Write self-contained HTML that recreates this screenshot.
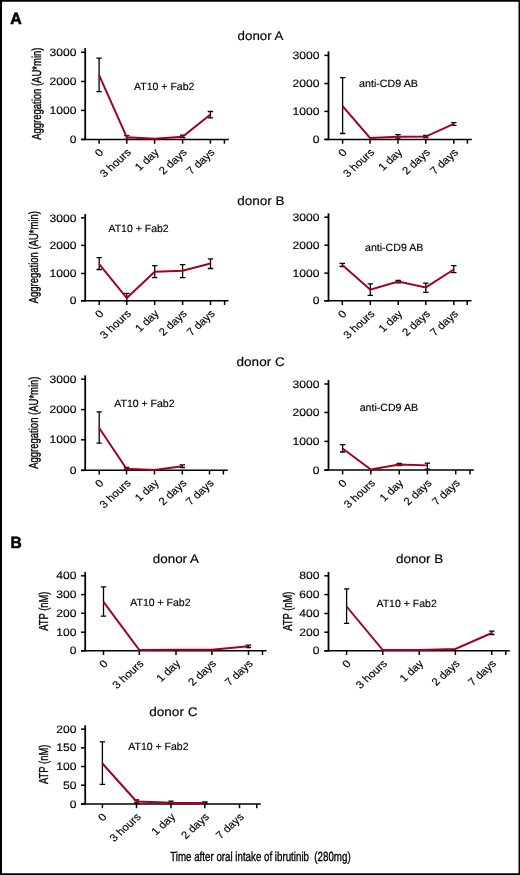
<!DOCTYPE html>
<html><head><meta charset="utf-8"><style>
html,body{margin:0;padding:0;background:#fff;}
body{width:520px;height:875px;overflow:hidden;}
text{stroke:#000;stroke-width:0.15px;}
svg{display:block;font-family:"Liberation Sans",sans-serif;text-rendering:geometricPrecision;will-change:transform;white-space:pre;}
</style></head><body>
<svg width="520" height="875" viewBox="0 0 520 875">
<rect x="0" y="0" width="520" height="875" fill="#fff"/>
<path d="M0,0H520V875H0Z M2,1.8V873.3H518.5V1.8Z" fill="#000" fill-rule="evenodd"/>
<g fill="#000">
<line x1="85.20" y1="48.10" x2="85.20" y2="140.15" stroke="#000" stroke-width="1.8"/>
<line x1="81.00" y1="139.40" x2="228.80" y2="139.40" stroke="#000" stroke-width="1.5"/>
<line x1="81.00" y1="52.30" x2="85.20" y2="52.30" stroke="#000" stroke-width="1.5"/>
<line x1="81.00" y1="81.50" x2="85.20" y2="81.50" stroke="#000" stroke-width="1.5"/>
<line x1="81.00" y1="110.40" x2="85.20" y2="110.40" stroke="#000" stroke-width="1.5"/>
<line x1="81.00" y1="139.40" x2="85.20" y2="139.40" stroke="#000" stroke-width="1.5"/>
<line x1="99.10" y1="139.40" x2="99.10" y2="143.70" stroke="#000" stroke-width="1.5"/>
<line x1="126.80" y1="139.40" x2="126.80" y2="143.70" stroke="#000" stroke-width="1.5"/>
<line x1="154.60" y1="139.40" x2="154.60" y2="143.70" stroke="#000" stroke-width="1.5"/>
<line x1="182.60" y1="139.40" x2="182.60" y2="143.70" stroke="#000" stroke-width="1.5"/>
<line x1="210.40" y1="139.40" x2="210.40" y2="143.70" stroke="#000" stroke-width="1.5"/>
<line x1="224.40" y1="139.40" x2="224.40" y2="143.70" stroke="#000" stroke-width="1.5"/>
<text transform="translate(49.47,55.90) scale(1.12,1)" font-size="10.8">3000</text>
<text transform="translate(49.47,85.10) scale(1.12,1)" font-size="10.8">2000</text>
<text transform="translate(49.47,114.00) scale(1.12,1)" font-size="10.8">1000</text>
<text transform="translate(69.65,143.00) scale(1.12,1)" font-size="10.8">0</text>
<text transform="translate(104.10,153.10) scale(1.1,1) rotate(-45)" font-size="10.5" text-anchor="end">0</text>
<text transform="translate(131.80,153.10) scale(1.1,1) rotate(-45)" font-size="10.5" text-anchor="end">3 hours</text>
<text transform="translate(159.60,153.10) scale(1.1,1) rotate(-45)" font-size="10.5" text-anchor="end">1 day</text>
<text transform="translate(187.60,153.10) scale(1.1,1) rotate(-45)" font-size="10.5" text-anchor="end">2 days</text>
<text transform="translate(215.40,153.10) scale(1.1,1) rotate(-45)" font-size="10.5" text-anchor="end">7 days</text>
<path d="M96.40,58.20H101.80M99.10,58.20V91.60M96.40,91.60H101.80" stroke="#000" stroke-width="1.3" fill="none"/>
<path d="M124.10,135.70H129.50M126.80,135.70V139.40M124.10,139.40H129.50" stroke="#000" stroke-width="1.3" fill="none"/>
<path d="M179.90,135.10H185.30M182.60,135.10V137.60M179.90,137.60H185.30" stroke="#000" stroke-width="1.3" fill="none"/>
<path d="M207.70,111.50H213.10M210.40,111.50V117.80M207.70,117.80H213.10" stroke="#000" stroke-width="1.3" fill="none"/>
<polyline points="99.10,75.20 126.80,137.20 154.60,138.70 182.60,136.80 210.40,114.40" fill="none" stroke="#a3001e" stroke-width="1.95" stroke-linejoin="miter"/>
<line x1="328.50" y1="51.40" x2="328.50" y2="140.15" stroke="#000" stroke-width="1.8"/>
<line x1="324.30" y1="139.40" x2="471.80" y2="139.40" stroke="#000" stroke-width="1.5"/>
<line x1="324.30" y1="55.40" x2="328.50" y2="55.40" stroke="#000" stroke-width="1.5"/>
<line x1="324.30" y1="83.50" x2="328.50" y2="83.50" stroke="#000" stroke-width="1.5"/>
<line x1="324.30" y1="111.40" x2="328.50" y2="111.40" stroke="#000" stroke-width="1.5"/>
<line x1="324.30" y1="139.40" x2="328.50" y2="139.40" stroke="#000" stroke-width="1.5"/>
<line x1="342.60" y1="139.40" x2="342.60" y2="143.70" stroke="#000" stroke-width="1.5"/>
<line x1="370.00" y1="139.40" x2="370.00" y2="143.70" stroke="#000" stroke-width="1.5"/>
<line x1="398.00" y1="139.40" x2="398.00" y2="143.70" stroke="#000" stroke-width="1.5"/>
<line x1="425.80" y1="139.40" x2="425.80" y2="143.70" stroke="#000" stroke-width="1.5"/>
<line x1="453.80" y1="139.40" x2="453.80" y2="143.70" stroke="#000" stroke-width="1.5"/>
<line x1="467.40" y1="139.40" x2="467.40" y2="143.70" stroke="#000" stroke-width="1.5"/>
<text transform="translate(292.57,59.00) scale(1.12,1)" font-size="10.8">3000</text>
<text transform="translate(292.57,87.10) scale(1.12,1)" font-size="10.8">2000</text>
<text transform="translate(292.57,115.00) scale(1.12,1)" font-size="10.8">1000</text>
<text transform="translate(312.75,143.00) scale(1.12,1)" font-size="10.8">0</text>
<text transform="translate(347.60,153.10) scale(1.1,1) rotate(-45)" font-size="10.5" text-anchor="end">0</text>
<text transform="translate(375.00,153.10) scale(1.1,1) rotate(-45)" font-size="10.5" text-anchor="end">3 hours</text>
<text transform="translate(403.00,153.10) scale(1.1,1) rotate(-45)" font-size="10.5" text-anchor="end">1 day</text>
<text transform="translate(430.80,153.10) scale(1.1,1) rotate(-45)" font-size="10.5" text-anchor="end">2 days</text>
<text transform="translate(458.80,153.10) scale(1.1,1) rotate(-45)" font-size="10.5" text-anchor="end">7 days</text>
<path d="M339.90,77.70H345.30M342.60,77.70V133.50M339.90,133.50H345.30" stroke="#000" stroke-width="1.3" fill="none"/>
<path d="M395.30,134.70H400.70M398.00,134.70V138.90M395.30,138.90H400.70" stroke="#000" stroke-width="1.3" fill="none"/>
<path d="M423.10,135.50H428.50M425.80,135.50V137.70M423.10,137.70H428.50" stroke="#000" stroke-width="1.3" fill="none"/>
<path d="M451.10,122.60H456.50M453.80,122.60V125.40M451.10,125.40H456.50" stroke="#000" stroke-width="1.3" fill="none"/>
<polyline points="342.60,106.20 370.00,138.00 398.00,136.80 425.80,136.60 453.80,123.80" fill="none" stroke="#a3001e" stroke-width="1.95" stroke-linejoin="miter"/>
<line x1="85.20" y1="214.10" x2="85.20" y2="301.45" stroke="#000" stroke-width="1.8"/>
<line x1="81.00" y1="300.70" x2="228.50" y2="300.70" stroke="#000" stroke-width="1.5"/>
<line x1="81.00" y1="217.90" x2="85.20" y2="217.90" stroke="#000" stroke-width="1.5"/>
<line x1="81.00" y1="245.40" x2="85.20" y2="245.40" stroke="#000" stroke-width="1.5"/>
<line x1="81.00" y1="273.50" x2="85.20" y2="273.50" stroke="#000" stroke-width="1.5"/>
<line x1="81.00" y1="300.80" x2="85.20" y2="300.80" stroke="#000" stroke-width="1.5"/>
<line x1="99.20" y1="300.70" x2="99.20" y2="305.00" stroke="#000" stroke-width="1.5"/>
<line x1="126.80" y1="300.70" x2="126.80" y2="305.00" stroke="#000" stroke-width="1.5"/>
<line x1="154.70" y1="300.70" x2="154.70" y2="305.00" stroke="#000" stroke-width="1.5"/>
<line x1="182.60" y1="300.70" x2="182.60" y2="305.00" stroke="#000" stroke-width="1.5"/>
<line x1="210.50" y1="300.70" x2="210.50" y2="305.00" stroke="#000" stroke-width="1.5"/>
<line x1="224.60" y1="300.70" x2="224.60" y2="305.00" stroke="#000" stroke-width="1.5"/>
<text transform="translate(49.47,221.50) scale(1.12,1)" font-size="10.8">3000</text>
<text transform="translate(49.47,249.00) scale(1.12,1)" font-size="10.8">2000</text>
<text transform="translate(49.47,277.10) scale(1.12,1)" font-size="10.8">1000</text>
<text transform="translate(69.65,304.40) scale(1.12,1)" font-size="10.8">0</text>
<text transform="translate(104.20,314.40) scale(1.1,1) rotate(-45)" font-size="10.5" text-anchor="end">0</text>
<text transform="translate(131.80,314.40) scale(1.1,1) rotate(-45)" font-size="10.5" text-anchor="end">3 hours</text>
<text transform="translate(159.70,314.40) scale(1.1,1) rotate(-45)" font-size="10.5" text-anchor="end">1 day</text>
<text transform="translate(187.60,314.40) scale(1.1,1) rotate(-45)" font-size="10.5" text-anchor="end">2 days</text>
<text transform="translate(215.50,314.40) scale(1.1,1) rotate(-45)" font-size="10.5" text-anchor="end">7 days</text>
<path d="M96.50,257.70H101.90M99.20,257.70V269.50M96.50,269.50H101.90" stroke="#000" stroke-width="1.3" fill="none"/>
<path d="M124.10,293.40H129.50M126.80,293.40V300.70M124.10,300.70H129.50" stroke="#000" stroke-width="1.3" fill="none"/>
<path d="M152.00,265.70H157.40M154.70,265.70V277.70M152.00,277.70H157.40" stroke="#000" stroke-width="1.3" fill="none"/>
<path d="M179.90,264.60H185.30M182.60,264.60V277.70M179.90,277.70H185.30" stroke="#000" stroke-width="1.3" fill="none"/>
<path d="M207.80,258.80H213.20M210.50,258.80V268.50M207.80,268.50H213.20" stroke="#000" stroke-width="1.3" fill="none"/>
<polyline points="99.20,264.20 126.80,298.00 154.70,271.80 182.60,270.80 210.50,263.50" fill="none" stroke="#a3001e" stroke-width="1.95" stroke-linejoin="miter"/>
<line x1="328.50" y1="213.30" x2="328.50" y2="301.55" stroke="#000" stroke-width="1.8"/>
<line x1="324.30" y1="300.80" x2="471.50" y2="300.80" stroke="#000" stroke-width="1.5"/>
<line x1="324.30" y1="217.20" x2="328.50" y2="217.20" stroke="#000" stroke-width="1.5"/>
<line x1="324.30" y1="245.20" x2="328.50" y2="245.20" stroke="#000" stroke-width="1.5"/>
<line x1="324.30" y1="273.10" x2="328.50" y2="273.10" stroke="#000" stroke-width="1.5"/>
<line x1="324.30" y1="300.80" x2="328.50" y2="300.80" stroke="#000" stroke-width="1.5"/>
<line x1="342.30" y1="300.80" x2="342.30" y2="305.10" stroke="#000" stroke-width="1.5"/>
<line x1="370.30" y1="300.80" x2="370.30" y2="305.10" stroke="#000" stroke-width="1.5"/>
<line x1="398.20" y1="300.80" x2="398.20" y2="305.10" stroke="#000" stroke-width="1.5"/>
<line x1="425.80" y1="300.80" x2="425.80" y2="305.10" stroke="#000" stroke-width="1.5"/>
<line x1="453.80" y1="300.80" x2="453.80" y2="305.10" stroke="#000" stroke-width="1.5"/>
<line x1="467.20" y1="300.80" x2="467.20" y2="305.10" stroke="#000" stroke-width="1.5"/>
<text transform="translate(292.57,220.80) scale(1.12,1)" font-size="10.8">3000</text>
<text transform="translate(292.57,248.80) scale(1.12,1)" font-size="10.8">2000</text>
<text transform="translate(292.57,276.70) scale(1.12,1)" font-size="10.8">1000</text>
<text transform="translate(312.75,304.40) scale(1.12,1)" font-size="10.8">0</text>
<text transform="translate(347.30,314.50) scale(1.1,1) rotate(-45)" font-size="10.5" text-anchor="end">0</text>
<text transform="translate(375.30,314.50) scale(1.1,1) rotate(-45)" font-size="10.5" text-anchor="end">3 hours</text>
<text transform="translate(403.20,314.50) scale(1.1,1) rotate(-45)" font-size="10.5" text-anchor="end">1 day</text>
<text transform="translate(430.80,314.50) scale(1.1,1) rotate(-45)" font-size="10.5" text-anchor="end">2 days</text>
<text transform="translate(458.80,314.50) scale(1.1,1) rotate(-45)" font-size="10.5" text-anchor="end">7 days</text>
<path d="M339.60,263.40H345.00M342.30,263.40V266.50M339.60,266.50H345.00" stroke="#000" stroke-width="1.3" fill="none"/>
<path d="M367.60,283.80H373.00M370.30,283.80V295.40M367.60,295.40H373.00" stroke="#000" stroke-width="1.3" fill="none"/>
<path d="M395.50,280.30H400.90M398.20,280.30V282.80M395.50,282.80H400.90" stroke="#000" stroke-width="1.3" fill="none"/>
<path d="M423.10,283.10H428.50M425.80,283.10V292.30M423.10,292.30H428.50" stroke="#000" stroke-width="1.3" fill="none"/>
<path d="M451.10,265.70H456.50M453.80,265.70V272.60M451.10,272.60H456.50" stroke="#000" stroke-width="1.3" fill="none"/>
<polyline points="342.30,264.90 370.30,289.70 398.20,281.50 425.80,287.40 453.80,269.50" fill="none" stroke="#a3001e" stroke-width="1.95" stroke-linejoin="miter"/>
<line x1="85.20" y1="375.40" x2="85.20" y2="470.95" stroke="#000" stroke-width="1.8"/>
<line x1="81.00" y1="470.20" x2="227.70" y2="470.20" stroke="#000" stroke-width="1.5"/>
<line x1="81.00" y1="379.20" x2="85.20" y2="379.20" stroke="#000" stroke-width="1.5"/>
<line x1="81.00" y1="409.60" x2="85.20" y2="409.60" stroke="#000" stroke-width="1.5"/>
<line x1="81.00" y1="439.80" x2="85.20" y2="439.80" stroke="#000" stroke-width="1.5"/>
<line x1="81.00" y1="470.40" x2="85.20" y2="470.40" stroke="#000" stroke-width="1.5"/>
<line x1="99.20" y1="470.20" x2="99.20" y2="474.50" stroke="#000" stroke-width="1.5"/>
<line x1="126.50" y1="470.20" x2="126.50" y2="474.50" stroke="#000" stroke-width="1.5"/>
<line x1="154.50" y1="470.20" x2="154.50" y2="474.50" stroke="#000" stroke-width="1.5"/>
<line x1="182.30" y1="470.20" x2="182.30" y2="474.50" stroke="#000" stroke-width="1.5"/>
<line x1="209.50" y1="470.20" x2="209.50" y2="474.50" stroke="#000" stroke-width="1.5"/>
<line x1="223.40" y1="470.20" x2="223.40" y2="474.50" stroke="#000" stroke-width="1.5"/>
<text transform="translate(49.47,382.80) scale(1.12,1)" font-size="10.8">3000</text>
<text transform="translate(49.47,413.20) scale(1.12,1)" font-size="10.8">2000</text>
<text transform="translate(49.47,443.40) scale(1.12,1)" font-size="10.8">1000</text>
<text transform="translate(69.65,474.00) scale(1.12,1)" font-size="10.8">0</text>
<text transform="translate(104.20,483.90) scale(1.1,1) rotate(-45)" font-size="10.5" text-anchor="end">0</text>
<text transform="translate(131.50,483.90) scale(1.1,1) rotate(-45)" font-size="10.5" text-anchor="end">3 hours</text>
<text transform="translate(159.50,483.90) scale(1.1,1) rotate(-45)" font-size="10.5" text-anchor="end">1 day</text>
<text transform="translate(187.30,483.90) scale(1.1,1) rotate(-45)" font-size="10.5" text-anchor="end">2 days</text>
<text transform="translate(214.50,483.90) scale(1.1,1) rotate(-45)" font-size="10.5" text-anchor="end">7 days</text>
<path d="M96.50,411.80H101.90M99.20,411.80V443.10M96.50,443.10H101.90" stroke="#000" stroke-width="1.3" fill="none"/>
<path d="M123.80,467.50H129.20M126.50,467.50V469.50M123.80,469.50H129.20" stroke="#000" stroke-width="1.3" fill="none"/>
<path d="M179.60,464.80H185.00M182.30,464.80V467.50M179.60,467.50H185.00" stroke="#000" stroke-width="1.3" fill="none"/>
<polyline points="99.20,428.00 126.50,468.80 154.50,470.00 182.30,466.20" fill="none" stroke="#a3001e" stroke-width="1.95" stroke-linejoin="miter"/>
<line x1="328.50" y1="380.00" x2="328.50" y2="470.85" stroke="#000" stroke-width="1.8"/>
<line x1="324.30" y1="470.10" x2="473.80" y2="470.10" stroke="#000" stroke-width="1.5"/>
<line x1="324.30" y1="384.00" x2="328.50" y2="384.00" stroke="#000" stroke-width="1.5"/>
<line x1="324.30" y1="412.50" x2="328.50" y2="412.50" stroke="#000" stroke-width="1.5"/>
<line x1="324.30" y1="441.40" x2="328.50" y2="441.40" stroke="#000" stroke-width="1.5"/>
<line x1="324.30" y1="470.20" x2="328.50" y2="470.20" stroke="#000" stroke-width="1.5"/>
<line x1="342.60" y1="470.10" x2="342.60" y2="474.40" stroke="#000" stroke-width="1.5"/>
<line x1="370.80" y1="470.10" x2="370.80" y2="474.40" stroke="#000" stroke-width="1.5"/>
<line x1="399.20" y1="470.10" x2="399.20" y2="474.40" stroke="#000" stroke-width="1.5"/>
<line x1="427.40" y1="470.10" x2="427.40" y2="474.40" stroke="#000" stroke-width="1.5"/>
<line x1="455.70" y1="470.10" x2="455.70" y2="474.40" stroke="#000" stroke-width="1.5"/>
<line x1="470.00" y1="470.10" x2="470.00" y2="474.40" stroke="#000" stroke-width="1.5"/>
<text transform="translate(292.57,387.60) scale(1.12,1)" font-size="10.8">3000</text>
<text transform="translate(292.57,416.10) scale(1.12,1)" font-size="10.8">2000</text>
<text transform="translate(292.57,445.00) scale(1.12,1)" font-size="10.8">1000</text>
<text transform="translate(312.75,473.80) scale(1.12,1)" font-size="10.8">0</text>
<text transform="translate(347.60,483.80) scale(1.1,1) rotate(-45)" font-size="10.5" text-anchor="end">0</text>
<text transform="translate(375.80,483.80) scale(1.1,1) rotate(-45)" font-size="10.5" text-anchor="end">3 hours</text>
<text transform="translate(404.20,483.80) scale(1.1,1) rotate(-45)" font-size="10.5" text-anchor="end">1 day</text>
<text transform="translate(432.40,483.80) scale(1.1,1) rotate(-45)" font-size="10.5" text-anchor="end">2 days</text>
<text transform="translate(460.70,483.80) scale(1.1,1) rotate(-45)" font-size="10.5" text-anchor="end">7 days</text>
<path d="M339.90,444.60H345.30M342.60,444.60V452.00M339.90,452.00H345.30" stroke="#000" stroke-width="1.3" fill="none"/>
<path d="M396.50,463.50H401.90M399.20,463.50V465.50M396.50,465.50H401.90" stroke="#000" stroke-width="1.3" fill="none"/>
<path d="M424.70,463.10H430.10M427.40,463.10V469.20M424.70,469.20H430.10" stroke="#000" stroke-width="1.3" fill="none"/>
<polyline points="342.60,448.50 370.80,469.50 399.20,464.60 427.40,465.40" fill="none" stroke="#a3001e" stroke-width="1.95" stroke-linejoin="miter"/>
<line x1="85.20" y1="571.90" x2="85.20" y2="651.45" stroke="#000" stroke-width="1.8"/>
<line x1="81.00" y1="650.70" x2="266.50" y2="650.70" stroke="#000" stroke-width="1.5"/>
<line x1="81.00" y1="575.80" x2="85.20" y2="575.80" stroke="#000" stroke-width="1.5"/>
<line x1="81.00" y1="594.60" x2="85.20" y2="594.60" stroke="#000" stroke-width="1.5"/>
<line x1="81.00" y1="613.30" x2="85.20" y2="613.30" stroke="#000" stroke-width="1.5"/>
<line x1="81.00" y1="632.20" x2="85.20" y2="632.20" stroke="#000" stroke-width="1.5"/>
<line x1="81.00" y1="650.80" x2="85.20" y2="650.80" stroke="#000" stroke-width="1.5"/>
<line x1="103.50" y1="650.70" x2="103.50" y2="655.00" stroke="#000" stroke-width="1.5"/>
<line x1="139.30" y1="650.70" x2="139.30" y2="655.00" stroke="#000" stroke-width="1.5"/>
<line x1="176.00" y1="650.70" x2="176.00" y2="655.00" stroke="#000" stroke-width="1.5"/>
<line x1="211.90" y1="650.70" x2="211.90" y2="655.00" stroke="#000" stroke-width="1.5"/>
<line x1="248.50" y1="650.70" x2="248.50" y2="655.00" stroke="#000" stroke-width="1.5"/>
<line x1="262.50" y1="650.70" x2="262.50" y2="655.00" stroke="#000" stroke-width="1.5"/>
<text transform="translate(56.20,579.40) scale(1.12,1)" font-size="10.8">400</text>
<text transform="translate(56.20,598.20) scale(1.12,1)" font-size="10.8">300</text>
<text transform="translate(56.20,616.90) scale(1.12,1)" font-size="10.8">200</text>
<text transform="translate(56.20,635.80) scale(1.12,1)" font-size="10.8">100</text>
<text transform="translate(69.65,654.40) scale(1.12,1)" font-size="10.8">0</text>
<text transform="translate(108.50,664.40) scale(1.1,1) rotate(-45)" font-size="10.5" text-anchor="end">0</text>
<text transform="translate(144.30,664.40) scale(1.1,1) rotate(-45)" font-size="10.5" text-anchor="end">3 hours</text>
<text transform="translate(181.00,664.40) scale(1.1,1) rotate(-45)" font-size="10.5" text-anchor="end">1 day</text>
<text transform="translate(216.90,664.40) scale(1.1,1) rotate(-45)" font-size="10.5" text-anchor="end">2 days</text>
<text transform="translate(253.50,664.40) scale(1.1,1) rotate(-45)" font-size="10.5" text-anchor="end">7 days</text>
<path d="M100.80,586.90H106.20M103.50,586.90V616.20M100.80,616.20H106.20" stroke="#000" stroke-width="1.3" fill="none"/>
<path d="M245.80,645.20H251.20M248.50,645.20V647.50M245.80,647.50H251.20" stroke="#000" stroke-width="1.3" fill="none"/>
<polyline points="103.50,601.80 139.30,650.00 176.00,649.80 211.90,649.80 248.50,646.30" fill="none" stroke="#a3001e" stroke-width="1.95" stroke-linejoin="miter"/>
<line x1="328.50" y1="571.90" x2="328.50" y2="651.45" stroke="#000" stroke-width="1.8"/>
<line x1="324.30" y1="650.70" x2="509.80" y2="650.70" stroke="#000" stroke-width="1.5"/>
<line x1="324.30" y1="575.80" x2="328.50" y2="575.80" stroke="#000" stroke-width="1.5"/>
<line x1="324.30" y1="594.60" x2="328.50" y2="594.60" stroke="#000" stroke-width="1.5"/>
<line x1="324.30" y1="613.50" x2="328.50" y2="613.50" stroke="#000" stroke-width="1.5"/>
<line x1="324.30" y1="632.20" x2="328.50" y2="632.20" stroke="#000" stroke-width="1.5"/>
<line x1="324.30" y1="650.80" x2="328.50" y2="650.80" stroke="#000" stroke-width="1.5"/>
<line x1="346.60" y1="650.70" x2="346.60" y2="655.00" stroke="#000" stroke-width="1.5"/>
<line x1="382.80" y1="650.70" x2="382.80" y2="655.00" stroke="#000" stroke-width="1.5"/>
<line x1="419.20" y1="650.70" x2="419.20" y2="655.00" stroke="#000" stroke-width="1.5"/>
<line x1="455.40" y1="650.70" x2="455.40" y2="655.00" stroke="#000" stroke-width="1.5"/>
<line x1="491.80" y1="650.70" x2="491.80" y2="655.00" stroke="#000" stroke-width="1.5"/>
<line x1="505.80" y1="650.70" x2="505.80" y2="655.00" stroke="#000" stroke-width="1.5"/>
<text transform="translate(299.30,579.40) scale(1.12,1)" font-size="10.8">800</text>
<text transform="translate(299.30,598.20) scale(1.12,1)" font-size="10.8">600</text>
<text transform="translate(299.30,617.10) scale(1.12,1)" font-size="10.8">400</text>
<text transform="translate(299.30,635.80) scale(1.12,1)" font-size="10.8">200</text>
<text transform="translate(312.75,654.40) scale(1.12,1)" font-size="10.8">0</text>
<text transform="translate(351.60,664.40) scale(1.1,1) rotate(-45)" font-size="10.5" text-anchor="end">0</text>
<text transform="translate(387.80,664.40) scale(1.1,1) rotate(-45)" font-size="10.5" text-anchor="end">3 hours</text>
<text transform="translate(424.20,664.40) scale(1.1,1) rotate(-45)" font-size="10.5" text-anchor="end">1 day</text>
<text transform="translate(460.40,664.40) scale(1.1,1) rotate(-45)" font-size="10.5" text-anchor="end">2 days</text>
<text transform="translate(496.80,664.40) scale(1.1,1) rotate(-45)" font-size="10.5" text-anchor="end">7 days</text>
<path d="M343.90,588.80H349.30M346.60,588.80V623.40M343.90,623.40H349.30" stroke="#000" stroke-width="1.3" fill="none"/>
<path d="M489.10,631.10H494.50M491.80,631.10V634.50M489.10,634.50H494.50" stroke="#000" stroke-width="1.3" fill="none"/>
<polyline points="346.60,606.50 382.80,650.00 419.20,650.00 455.40,649.00 491.80,633.00" fill="none" stroke="#a3001e" stroke-width="1.95" stroke-linejoin="miter"/>
<line x1="85.20" y1="725.40" x2="85.20" y2="804.65" stroke="#000" stroke-width="1.8"/>
<line x1="81.00" y1="803.90" x2="260.80" y2="803.90" stroke="#000" stroke-width="1.5"/>
<line x1="81.00" y1="729.10" x2="85.20" y2="729.10" stroke="#000" stroke-width="1.5"/>
<line x1="81.00" y1="747.80" x2="85.20" y2="747.80" stroke="#000" stroke-width="1.5"/>
<line x1="81.00" y1="766.50" x2="85.20" y2="766.50" stroke="#000" stroke-width="1.5"/>
<line x1="81.00" y1="785.20" x2="85.20" y2="785.20" stroke="#000" stroke-width="1.5"/>
<line x1="81.00" y1="804.00" x2="85.20" y2="804.00" stroke="#000" stroke-width="1.5"/>
<line x1="102.40" y1="803.90" x2="102.40" y2="808.20" stroke="#000" stroke-width="1.5"/>
<line x1="136.50" y1="803.90" x2="136.50" y2="808.20" stroke="#000" stroke-width="1.5"/>
<line x1="171.00" y1="803.90" x2="171.00" y2="808.20" stroke="#000" stroke-width="1.5"/>
<line x1="204.80" y1="803.90" x2="204.80" y2="808.20" stroke="#000" stroke-width="1.5"/>
<line x1="239.50" y1="803.90" x2="239.50" y2="808.20" stroke="#000" stroke-width="1.5"/>
<line x1="256.80" y1="803.90" x2="256.80" y2="808.20" stroke="#000" stroke-width="1.5"/>
<text transform="translate(56.20,732.70) scale(1.12,1)" font-size="10.8">200</text>
<text transform="translate(56.20,751.40) scale(1.12,1)" font-size="10.8">150</text>
<text transform="translate(56.20,770.10) scale(1.12,1)" font-size="10.8">100</text>
<text transform="translate(62.92,788.80) scale(1.12,1)" font-size="10.8">50</text>
<text transform="translate(69.65,807.60) scale(1.12,1)" font-size="10.8">0</text>
<text transform="translate(107.40,817.60) scale(1.1,1) rotate(-45)" font-size="10.5" text-anchor="end">0</text>
<text transform="translate(141.50,817.60) scale(1.1,1) rotate(-45)" font-size="10.5" text-anchor="end">3 hours</text>
<text transform="translate(176.00,817.60) scale(1.1,1) rotate(-45)" font-size="10.5" text-anchor="end">1 day</text>
<text transform="translate(209.80,817.60) scale(1.1,1) rotate(-45)" font-size="10.5" text-anchor="end">2 days</text>
<text transform="translate(244.50,817.60) scale(1.1,1) rotate(-45)" font-size="10.5" text-anchor="end">7 days</text>
<path d="M99.70,741.80H105.10M102.40,741.80V784.30M99.70,784.30H105.10" stroke="#000" stroke-width="1.3" fill="none"/>
<path d="M133.80,800.00H139.20M136.50,800.00V803.00M133.80,803.00H139.20" stroke="#000" stroke-width="1.3" fill="none"/>
<path d="M168.30,801.10H173.70M171.00,801.10V803.50M168.30,803.50H173.70" stroke="#000" stroke-width="1.3" fill="none"/>
<path d="M202.10,802.00H207.50M204.80,802.00V803.50M202.10,803.50H207.50" stroke="#000" stroke-width="1.3" fill="none"/>
<polyline points="102.40,763.50 136.50,801.50 171.00,802.80 204.80,803.00" fill="none" stroke="#a3001e" stroke-width="1.95" stroke-linejoin="miter"/>
<text transform="translate(134.03,89.65) scale(1.0022,1)" font-size="10.50" font-weight="normal" >AT10 + Fab2</text>
<text transform="translate(359.00,86.55) scale(1.0198,1)" font-size="10.50" font-weight="normal" >anti-CD9 AB</text>
<text transform="translate(108.43,231.55) scale(1.0005,1)" font-size="10.50" font-weight="normal" >AT10 + Fab2</text>
<text transform="translate(365.00,250.75) scale(1.0093,1)" font-size="10.50" font-weight="normal" >anti-CD9 AB</text>
<text transform="translate(114.23,406.75) scale(1.0022,1)" font-size="10.50" font-weight="normal" >AT10 + Fab2</text>
<text transform="translate(359.70,410.75) scale(1.0093,1)" font-size="10.50" font-weight="normal" >anti-CD9 AB</text>
<text transform="translate(130.23,605.75) scale(1.0022,1)" font-size="10.50" font-weight="normal" >AT10 + Fab2</text>
<text transform="translate(376.43,606.55) scale(1.0022,1)" font-size="10.50" font-weight="normal" >AT10 + Fab2</text>
<text transform="translate(128.23,750.45) scale(1.0022,1)" font-size="10.50" font-weight="normal" >AT10 + Fab2</text>
<text transform="translate(237.59,39.85) scale(1.0649,1)" font-size="12.50" font-weight="normal" >donor A</text>
<text transform="translate(237.18,205.35) scale(1.0801,1)" font-size="12.50" font-weight="normal" >donor B</text>
<text transform="translate(236.58,366.45) scale(1.0814,1)" font-size="12.50" font-weight="normal" >donor C</text>
<text transform="translate(152.79,563.25) scale(1.0720,1)" font-size="12.50" font-weight="normal" >donor A</text>
<text transform="translate(395.88,563.25) scale(1.0825,1)" font-size="12.50" font-weight="normal" >donor B</text>
<text transform="translate(149.18,716.25) scale(1.0860,1)" font-size="12.50" font-weight="normal" >donor C</text>
<text transform="translate(10.15,23.85) scale(0.9723,1)" font-size="16.40" font-weight="bold" style="stroke-width:0.6px">A</text>
<text transform="translate(10.51,548.05) scale(0.9496,1)" font-size="16.40" font-weight="bold" style="stroke-width:0.6px">B</text>
<text transform="translate(170.19,861.35) scale(0.7386,1)" font-size="13.20" font-weight="normal" style="stroke-width:0.35px">Time after oral intake of ibrutinib &#160;(280mg)</text>
<text transform="translate(41.45,139.87) rotate(-90) scale(0.7300,1)" font-size="13.00" style="stroke-width:0.35px">Aggregation (AU*min)</text>
<text transform="translate(37.65,303.27) rotate(-90) scale(0.7292,1)" font-size="13.00" style="stroke-width:0.35px">Aggregation (AU*min)</text>
<text transform="translate(37.65,468.77) rotate(-90) scale(0.7300,1)" font-size="13.00" style="stroke-width:0.35px">Aggregation (AU*min)</text>
<text transform="translate(48.15,630.87) rotate(-90) scale(0.7222,1)" font-size="13.00" style="stroke-width:0.35px">ATP (nM)</text>
<text transform="translate(291.75,630.87) rotate(-90) scale(0.7222,1)" font-size="13.00" style="stroke-width:0.35px">ATP (nM)</text>
<text transform="translate(48.35,783.97) rotate(-90) scale(0.7222,1)" font-size="13.00" style="stroke-width:0.35px">ATP (nM)</text>
</g>
</svg>
</body></html>
